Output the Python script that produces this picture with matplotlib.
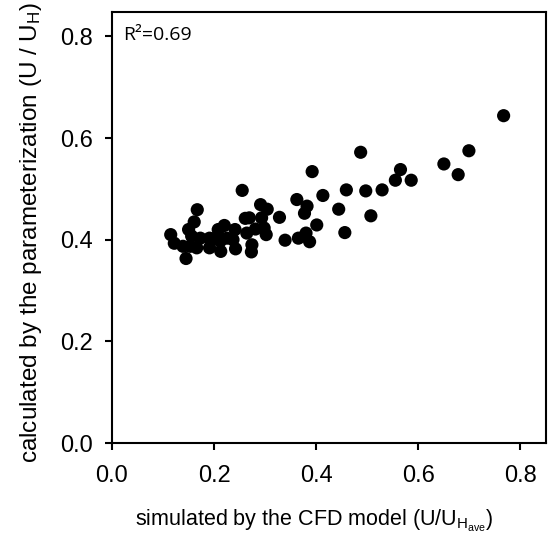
import matplotlib
matplotlib.use("Agg")
import matplotlib.pyplot as plt

# Data
x_cfd = [0.767, 0.699, 0.650, 0.678, 0.565, 0.555, 0.586, 0.529, 0.497, 0.459,
         0.487, 0.392, 0.413, 0.362, 0.382, 0.377, 0.444, 0.507, 0.456, 0.401,
         0.328, 0.339, 0.365, 0.380, 0.387, 0.255, 0.291, 0.304, 0.293, 0.261,
         0.269, 0.298, 0.302, 0.281, 0.264, 0.274, 0.273, 0.167, 0.161, 0.150,
         0.156, 0.115, 0.122, 0.145, 0.139, 0.166, 0.173, 0.191, 0.191, 0.208,
         0.220, 0.213, 0.212, 0.225, 0.241, 0.242, 0.237, 0.202, 0.153]
y_param = [0.644, 0.575, 0.549, 0.528, 0.538, 0.517, 0.517, 0.498, 0.496, 0.498,
           0.572, 0.534, 0.487, 0.479, 0.466, 0.452, 0.460, 0.447, 0.414, 0.429,
           0.444, 0.399, 0.403, 0.413, 0.396, 0.497, 0.469, 0.460, 0.443, 0.442,
           0.443, 0.423, 0.410, 0.421, 0.413, 0.390, 0.376, 0.459, 0.435, 0.420,
           0.407, 0.410, 0.393, 0.363, 0.387, 0.384, 0.403, 0.403, 0.384, 0.420,
           0.428, 0.377, 0.397, 0.403, 0.420, 0.382, 0.400, 0.403, 0.387]
ticks = [0.0, 0.2, 0.4, 0.6, 0.8]
tick_labels = ["0.0", "0.2", "0.4", "0.6", "0.8"]
r2_text = "R²=0.69"

plt.rcParams['font.family'] = ['Liberation Sans', 'DejaVu Sans']
plt.rcParams['mathtext.fontset'] = 'custom'
plt.rcParams['mathtext.rm'] = 'Liberation Sans'
plt.rcParams['mathtext.it'] = 'Liberation Sans'

fig = plt.figure(figsize=(5.5, 5.37), dpi=100)
ax = fig.add_axes([112/550, 1-443/537, (546-112)/550, (443-12)/537])

ax.scatter(x_cfd, y_param, s=90, c='black', edgecolors='none', zorder=3)

ax.set_xlim(0, 0.85)
ax.set_ylim(0, 0.848)
ax.set_xticks(ticks)
ax.set_xticklabels(tick_labels)
ax.set_yticks(ticks)
ax.set_yticklabels(tick_labels)

for sp in ax.spines.values():
    sp.set_linewidth(1.5)
ax.tick_params(direction='out', length=5, width=1.5, labelsize=17)
ax.tick_params(axis='x', pad=11)
ax.tick_params(axis='y', pad=9)

ax.set_xlabel(r'simulated by the CFD model (U/U$_{\mathrm{H}_{\mathrm{ave}}}$)',
              fontsize=15.5)
ax.set_ylabel(r'calculated by the parameterization (U / U$_{\mathrm{H}}$)',
              fontsize=17.5)
ax.xaxis.set_label_coords((314-112)/434, -(508-443)/431)
ax.yaxis.set_label_coords(-(112-44)/434, (443-232)/431)

ax.text(0.025, 0.967, r2_text, transform=ax.transAxes, ha='left', va='top',
        fontsize=14, family=['Open Sans', 'DejaVu Sans'])

fig.savefig("out.png", dpi=100)
